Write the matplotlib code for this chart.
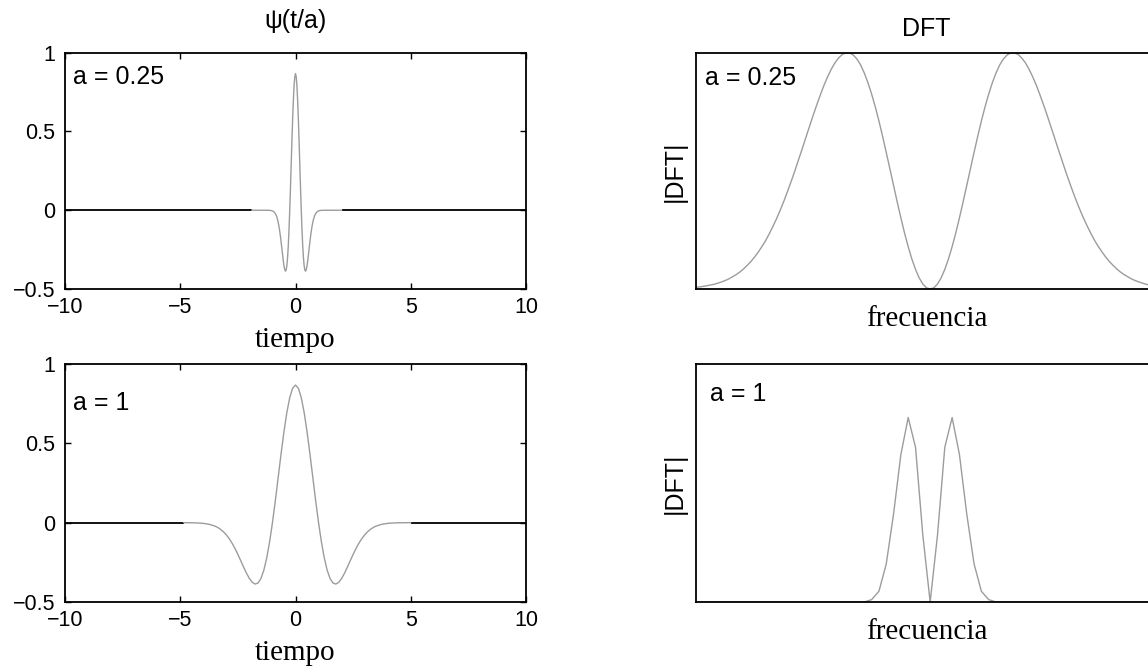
import numpy as np
import matplotlib
matplotlib.use("Agg")
import matplotlib.pyplot as plt

# ---------------- data ----------------
# Mexican-hat wavelet psi(t/a) for a = 1 (time in units of a)
t_unit = [-4.85, -4.75, -4.5, -4.25, -4.0, -3.75, -3.5, -3.375, -3.25, -3.125, -3.0,
          -2.875, -2.75, -2.625, -2.5, -2.375, -2.25, -2.125, -2.0, -1.875, -1.75,
          -1.625, -1.5, -1.375, -1.25, -1.125, -1.0, -0.875, -0.75, -0.625, -0.5,
          -0.375, -0.25, -0.125, 0.0, 0.125, 0.25, 0.375, 0.5, 0.625, 0.75, 0.875,
          1.0, 1.125, 1.25, 1.375, 1.5, 1.625, 1.75, 1.875, 2.0, 2.125, 2.25, 2.375,
          2.5, 2.625, 2.75, 2.875, 3.0, 3.125, 3.25, 3.375, 3.5, 3.75, 4.0, 4.25,
          4.5, 4.75, 5.0]
psi_values = [-0.0001, -0.0002, -0.0007, -0.0018, -0.0044, -0.0100, -0.0214, -0.0303,
              -0.0422, -0.0576, -0.0771, -0.1010, -0.1297, -0.1629, -0.2001, -0.2398,
              -0.2804, -0.3189, -0.3521, -0.3762, -0.3869, -0.3800, -0.3520, -0.3002,
              -0.2233, -0.1224, 0.0, 0.1386, 0.2864, 0.4347, 0.5741, 0.6947, 0.7880,
              0.8471, 0.8673, 0.8471, 0.7880, 0.6947, 0.5741, 0.4347, 0.2864, 0.1386,
              0.0, -0.1224, -0.2233, -0.3002, -0.3520, -0.3800, -0.3869, -0.3762,
              -0.3521, -0.3189, -0.2804, -0.2398, -0.2001, -0.1629, -0.1297, -0.1010,
              -0.0771, -0.0576, -0.0422, -0.0303, -0.0214, -0.0100, -0.0044, -0.0018,
              -0.0007, -0.0002, -0.0001]
scales = [0.25, 1.0]
support_a025 = [-1.9, 2.0]      # where the gray curve of a = 0.25 starts / ends
support_a1 = [-4.85, 5.0]

# |DFT| magnitudes (normalised), frequency in DFT bins
bins_a025 = np.arange(-32, 31.5, 0.5)
dft_a025_half = [0.0, 0.005, 0.021, 0.047, 0.083, 0.127, 0.179, 0.237, 0.301, 0.368,
                 0.438, 0.508, 0.578, 0.646, 0.711, 0.771, 0.825, 0.873, 0.914, 0.948,
                 0.973, 0.990, 0.999, 0.999, 0.993, 0.978, 0.958, 0.931, 0.899, 0.863,
                 0.822, 0.779, 0.734, 0.687, 0.640, 0.592, 0.546, 0.499, 0.455, 0.412,
                 0.371, 0.333, 0.297, 0.264, 0.233, 0.204, 0.179, 0.156, 0.135, 0.116,
                 0.100, 0.085, 0.072, 0.061, 0.052, 0.043, 0.036, 0.030, 0.025, 0.020,
                 0.017, 0.014, 0.011, 0.009, 0.007]   # bins 0, 0.5, ..., 32
dft_a025 = np.array(dft_a025_half[64:0:-1] + dft_a025_half[:63])

bins_a1 = np.arange(-32, 32)
dft_a1_half = [0.0, 0.28, 0.65, 0.775, 0.62, 0.37, 0.16, 0.045, 0.01] + [0.0] * 24
dft_a1 = np.array(dft_a1_half[32:0:-1] + dft_a1_half[:32])

scale_labels = ["a = 0.25", "a = 1"]
time_ticks = [-10, -5, 0, 5, 10]
time_ticklabels = ['\u221210', '\u22125', '0', '5', '10']
psi_ticks = [-0.5, 0, 0.5, 1]
psi_ticklabels = ['\u22120.5', '0', '0.5', '1']

# ---------------- figure ----------------
plt.rcParams['font.family'] = ['Liberation Sans', 'DejaVu Sans']
fig = plt.figure(figsize=(11.48, 6.70), dpi=100)

W, H = 1148.0, 670.0
def ax_at(x0, y0, x1, y1):
    return fig.add_axes([x0 / W, 1 - y1 / H, (x1 - x0) / W, (y1 - y0) / H])

ax_tl = ax_at(65, 52.7, 526, 289)
ax_bl = ax_at(65, 364, 526, 602)
ax_tr = ax_at(696, 52.7, 1157, 289)
ax_br = ax_at(696, 364, 1157, 602)

TICK = 15.5
TXT = 18
SERIF = ['Liberation Serif', 'DejaVu Serif']
gray = '#9c9c9c'

def style_left(ax):
    ax.set_xlim(-10, 10)
    ax.set_ylim(-0.5, 1)
    ax.set_xticks(time_ticks)
    ax.set_yticks(psi_ticks)
    ax.set_xticklabels(time_ticklabels)
    ax.set_yticklabels(psi_ticklabels)
    ax.tick_params(direction='in', length=4, width=1, top=True, right=True,
                   labelsize=TICK)
    ax.tick_params(axis='x', pad=6)
    ax.tick_params(axis='y', pad=7)
    for s in ax.spines.values():
        s.set_linewidth(1.3)
    ax.set_xlabel('tiempo', family=SERIF, fontsize=21, labelpad=6)

for ax, a, sup, lab, ylab in [(ax_tl, scales[0], support_a025, scale_labels[0], 0.897),
                              (ax_bl, scales[1], support_a1, scale_labels[1], 0.836)]:
    t = [a * v for v in t_unit]
    tt = [sup[0]] + t + [sup[1]]
    pp = [0.0] + psi_values + [0.0]
    ax.plot([-10, sup[0]], [0, 0], color='black', lw=1.3, solid_capstyle='butt')
    ax.plot([sup[1], 10], [0, 0], color='black', lw=1.3, solid_capstyle='butt')
    ax.plot(tt, pp, color=gray, lw=1.0)
    style_left(ax)
    ax.text(0.018, ylab, lab, transform=ax.transAxes, fontsize=TXT,
            ha='left', va='center')

for ax, x, vals, lab, ylab, xlab in [
        (ax_tr, bins_a025, dft_a025, scale_labels[0], 0.895, 0.02),
        (ax_br, bins_a1, dft_a1, scale_labels[1], 0.872, 0.03)]:
    ax.plot(x, vals, color=gray, lw=1.0)
    ax.set_xlim(-32, 31)
    ax.set_ylim(0, 1)
    ax.set_xticks([])
    ax.set_yticks([])
    for s in ax.spines.values():
        s.set_linewidth(1.3)
    ax.set_xlabel('frecuencia', family=SERIF, fontsize=21, labelpad=12)
    ax.set_ylabel('|DFT|', fontsize=TXT, labelpad=7)
    ax.text(xlab, ylab, lab, transform=ax.transAxes, fontsize=TXT,
            ha='left', va='center')

fig.text(295.5 / W, 1 - 21 / H, '\u03c8(t/a)', fontsize=TXT, ha='center', va='center')
fig.text(926.5 / W, 1 - 29 / H, 'DFT', fontsize=TXT, ha='center', va='center')

fig.savefig('out.png', dpi=100)
